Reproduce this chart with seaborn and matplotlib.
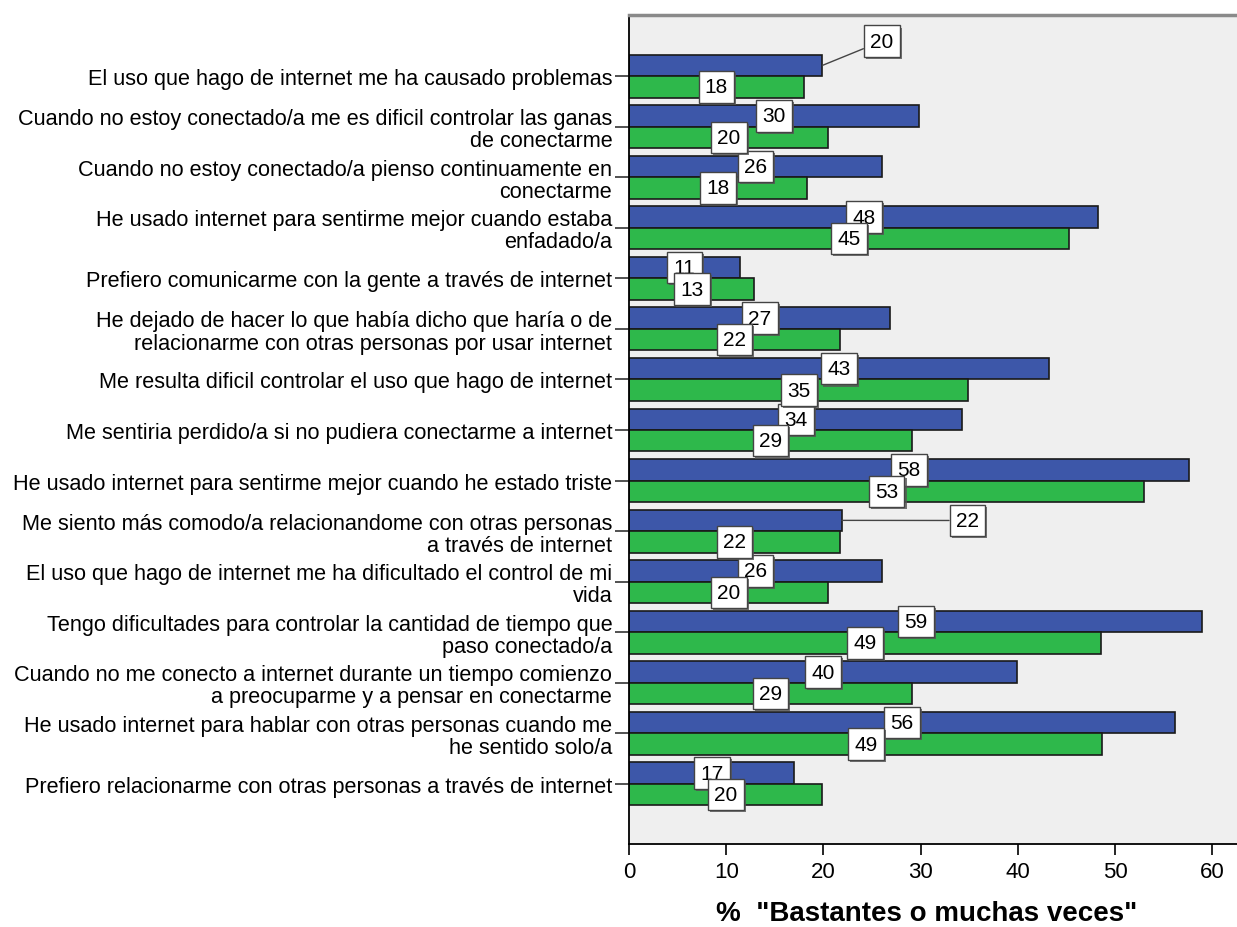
import matplotlib
matplotlib.use("Agg")
import matplotlib.pyplot as plt
import matplotlib.patheffects as pe
import seaborn as sns
import pandas as pd

items = [
    "El uso que hago de internet me ha causado problemas",
    "Cuando no estoy conectado/a me es dificil controlar las ganas\nde conectarme",
    "Cuando no estoy conectado/a pienso continuamente en\nconectarme",
    "He usado internet para sentirme mejor cuando estaba\nenfadado/a",
    "Prefiero comunicarme con la gente a través de internet",
    "He dejado de hacer lo que había dicho que haría o de\nrelacionarme con otras personas por usar internet",
    "Me resulta dificil controlar el uso que hago de internet",
    "Me sentiria perdido/a si no pudiera conectarme a internet",
    "He usado internet para sentirme mejor cuando he estado triste",
    "Me siento más comodo/a relacionandome con otras personas\na través de internet",
    "El uso que hago de internet me ha dificultado el control de mi\nvida",
    "Tengo dificultades para controlar la cantidad de tiempo que\npaso conectado/a",
    "Cuando no me conecto a internet durante un tiempo comienzo\na preocuparme y a pensar en conectarme",
    "He usado internet para hablar con otras personas cuando me\nhe sentido solo/a",
    "Prefiero relacionarme con otras personas a través de internet",
]
serie_a = [19.9, 29.8, 26.0, 48.3, 11.4, 26.9, 43.2, 34.3, 57.6, 21.9, 26.0, 59.0, 39.9, 56.2, 17.0]
serie_b = [18.0, 20.5, 18.3, 45.3, 12.9, 21.7, 34.9, 29.1, 53.0, 21.7, 20.5, 48.6, 29.1, 48.7, 19.9]
grupos = ["A", "B"]
colores = ["#3D57A9", "#2EB84B"]
xticks = [0, 10, 20, 30, 40, 50, 60]
xlabel = '%  "Bastantes o muchas veces"'

df = pd.DataFrame({
    "item": items * 2,
    "valor": serie_a + serie_b,
    "grupo": [grupos[0]] * len(items) + [grupos[1]] * len(items),
})

fig = plt.figure(figsize=(12.37, 9.28), dpi=100)
ax = fig.add_axes([0.5085, 0.0894, 0.4915, 0.8934])
sns.barplot(data=df, y="item", x="valor", hue="grupo", order=items,
            hue_order=grupos, palette=colores, orient="h", width=0.85,
            edgecolor="#1a1a1a", linewidth=1.2, saturation=1, ax=ax,
            legend=False, errorbar=None)

plt.rcParams['font.family'] = ['Liberation Sans', 'DejaVu Sans']
FONT = "Liberation Sans"
ax.set_facecolor("#EFEFEF")
ax.set_xlim(0, 62.55)
ax.set_ylim(len(items) - 1 + 1.19, -1.21)
ax.set_xticks(xticks)
ax.set_xticklabels([str(t) for t in xticks], fontsize=16, family=FONT)
ax.set_yticks(range(len(items)))
ax.set_yticklabels(items, fontsize=15.6, family=FONT, linespacing=1.07)
ax.set_ylabel("")
ax.set_xlabel(xlabel, fontsize=20, fontweight="bold", family=FONT, labelpad=14)
ax.xaxis.set_label_coords(0.49, -0.068)
ax.tick_params(axis="x", length=8, width=1.2, color="black", pad=4)
ax.tick_params(axis="y", length=10, width=1.2, color="#333333", pad=2)
for s in ["left", "bottom"]:
    ax.spines[s].set_color("black")
    ax.spines[s].set_linewidth(1.3)
ax.spines["top"].set_color("#8a8a8a")
ax.spines["top"].set_linewidth(2.5)
ax.spines["right"].set_visible(False)

box = dict(boxstyle="square,pad=0.3", fc="white", ec="#444444", lw=1.0)
shadow = [pe.SimplePatchShadow(offset=(1.5, -1.5), shadow_rgbFace="#555555", alpha=0.8), pe.Normal()]

special = {0: (26.0, -0.69), 9: (34.8, 8.79)}
for ci, cont in enumerate(ax.containers):
    vals = serie_a if ci == 0 else serie_b
    labels = []
    for i, v in enumerate(vals):
        if ci == 0 and i in special:
            labels.append("")
        else:
            labels.append(f"{round(v):d}")
    txts = ax.bar_label(cont, labels=labels, label_type="center", fontsize=15,
                        family=FONT, bbox=box, zorder=5)
    for t in txts:
        if t.get_text():
            t.get_bbox_patch().set_path_effects(shadow)

for i, (lx, ly) in special.items():
    bar = ax.containers[0][i]
    yb = bar.get_y() + bar.get_height() / 2
    t = ax.annotate(f"{round(serie_a[i]):d}", xy=(serie_a[i], yb), xytext=(lx, ly),
                    ha="center", va="center", fontsize=15, family=FONT,
                    bbox=box, zorder=6,
                    arrowprops=dict(arrowstyle="-", color="#444444", lw=1.0,
                                    shrinkA=0, shrinkB=0))
    t.get_bbox_patch().set_path_effects(shadow)

fig.savefig("out.png", dpi=100)
